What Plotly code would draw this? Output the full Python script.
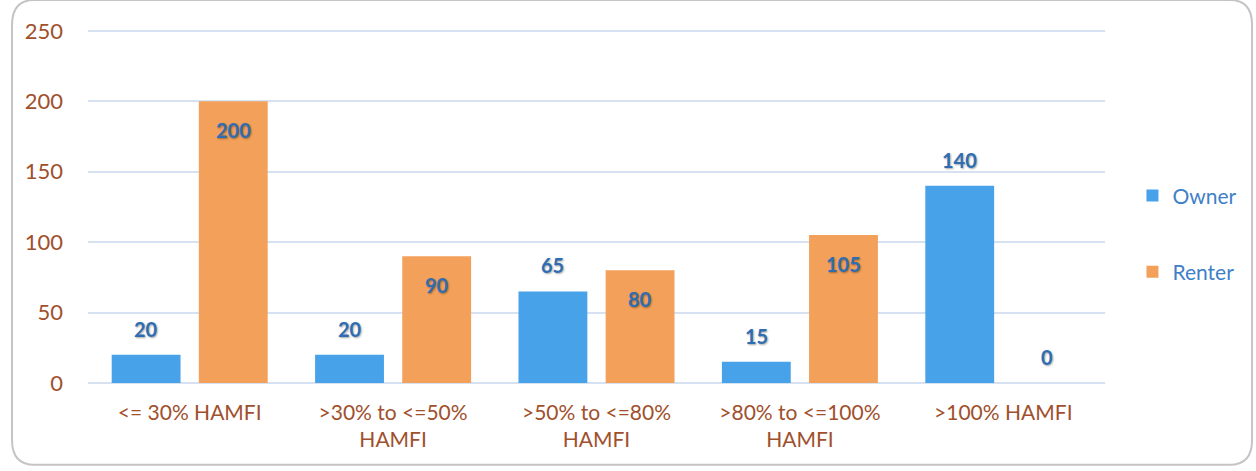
import plotly.graph_objects as go

categories = ["<= 30% HAMFI", ">30% to <=50%<br>HAMFI", ">50% to <=80%<br>HAMFI",
              ">80% to <=100%<br>HAMFI", ">100% HAMFI"]
owner = [20, 20, 65, 15, 140]
renter = [200, 90, 80, 105, 0]
y_ticks = [0, 50, 100, 150, 200, 250]

label_font = dict(family="Lato, Open Sans, sans-serif", size=20, color="#2F6DB3",
                  weight="bold", shadow="1px 1px 2px rgba(0,0,0,0.35)")

fig = go.Figure()
fig.add_trace(go.Bar(
    x=categories, y=owner, name="Owner", legendgroup="o",
    marker=dict(color="#48A2EA", line=dict(width=0)),
))
fig.add_trace(go.Bar(
    x=categories, y=renter, name="Renter", legendgroup="r",
    marker=dict(color="#F3A15A", line=dict(width=0)),
))

# data labels (Excel style: owner above, renter inside end)
bargap, bargroupgap = 0.143, 0.21
off = (1 - bargap) / 4
annotations = []
for i, v in enumerate(owner):
    annotations.append(dict(x=i - off, y=v, xref="x", yref="y", text=str(v),
                            showarrow=False, yshift=26, font=label_font))
for i, v in enumerate(renter):
    annotations.append(dict(x=i + off, y=v, xref="x", yref="y", text=str(v),
                            showarrow=False, yshift=(-29 if v > 0 else 26), font=label_font))

tick_color = "#A0502C"
fig.update_layout(
    width=1256, height=471,
    margin=dict(l=88, r=151, t=28, b=88),
    paper_bgcolor="white", plot_bgcolor="white",
    barmode="group", bargap=bargap, bargroupgap=bargroupgap,
    font=dict(family="Lato, Open Sans, sans-serif"),
    xaxis=dict(tickfont=dict(size=21, color=tick_color), showgrid=False,
               showline=False, ticks="", range=[-0.5, 4.5], ticklabelstandoff=15),
    yaxis=dict(range=[0, 252], tickvals=y_ticks, tickfont=dict(size=22, color=tick_color),
               gridcolor="#D6E2F2", gridwidth=2, zeroline=True, zerolinecolor="#D6E2F2",
               zerolinewidth=2, ticklabelstandoff=24, showline=False),
    legend=dict(x=1.027, y=0.585, xanchor="left", yanchor="top", tracegroupgap=46,
                font=dict(size=21, color="#3F7FC8"), itemwidth=30, bgcolor="rgba(0,0,0,0)"),
    showlegend=True,
    annotations=annotations,
)

# rounded border of the chart area
x0, x1, y0, y1 = -0.0747, 1.1446, -0.2305, 1.0787
rx, ry = 0.022, 0.07
path = (f"M {x0+rx},{y1} L {x1-rx},{y1} Q {x1},{y1} {x1},{y1-ry} "
        f"L {x1},{y0+ry} Q {x1},{y0} {x1-rx},{y0} "
        f"L {x0+rx},{y0} Q {x0},{y0} {x0},{y0+ry} "
        f"L {x0},{y1-ry} Q {x0},{y1} {x0+rx},{y1} Z")
fig.add_shape(type="path", xref="paper", yref="paper", path=path,
              line=dict(color="#C4C4C4", width=2), layer="below")

fig.write_html("out.html", config={"displayModeBar": False},
               post_script="document.body.style.margin='0';document.body.style.padding='0';")
